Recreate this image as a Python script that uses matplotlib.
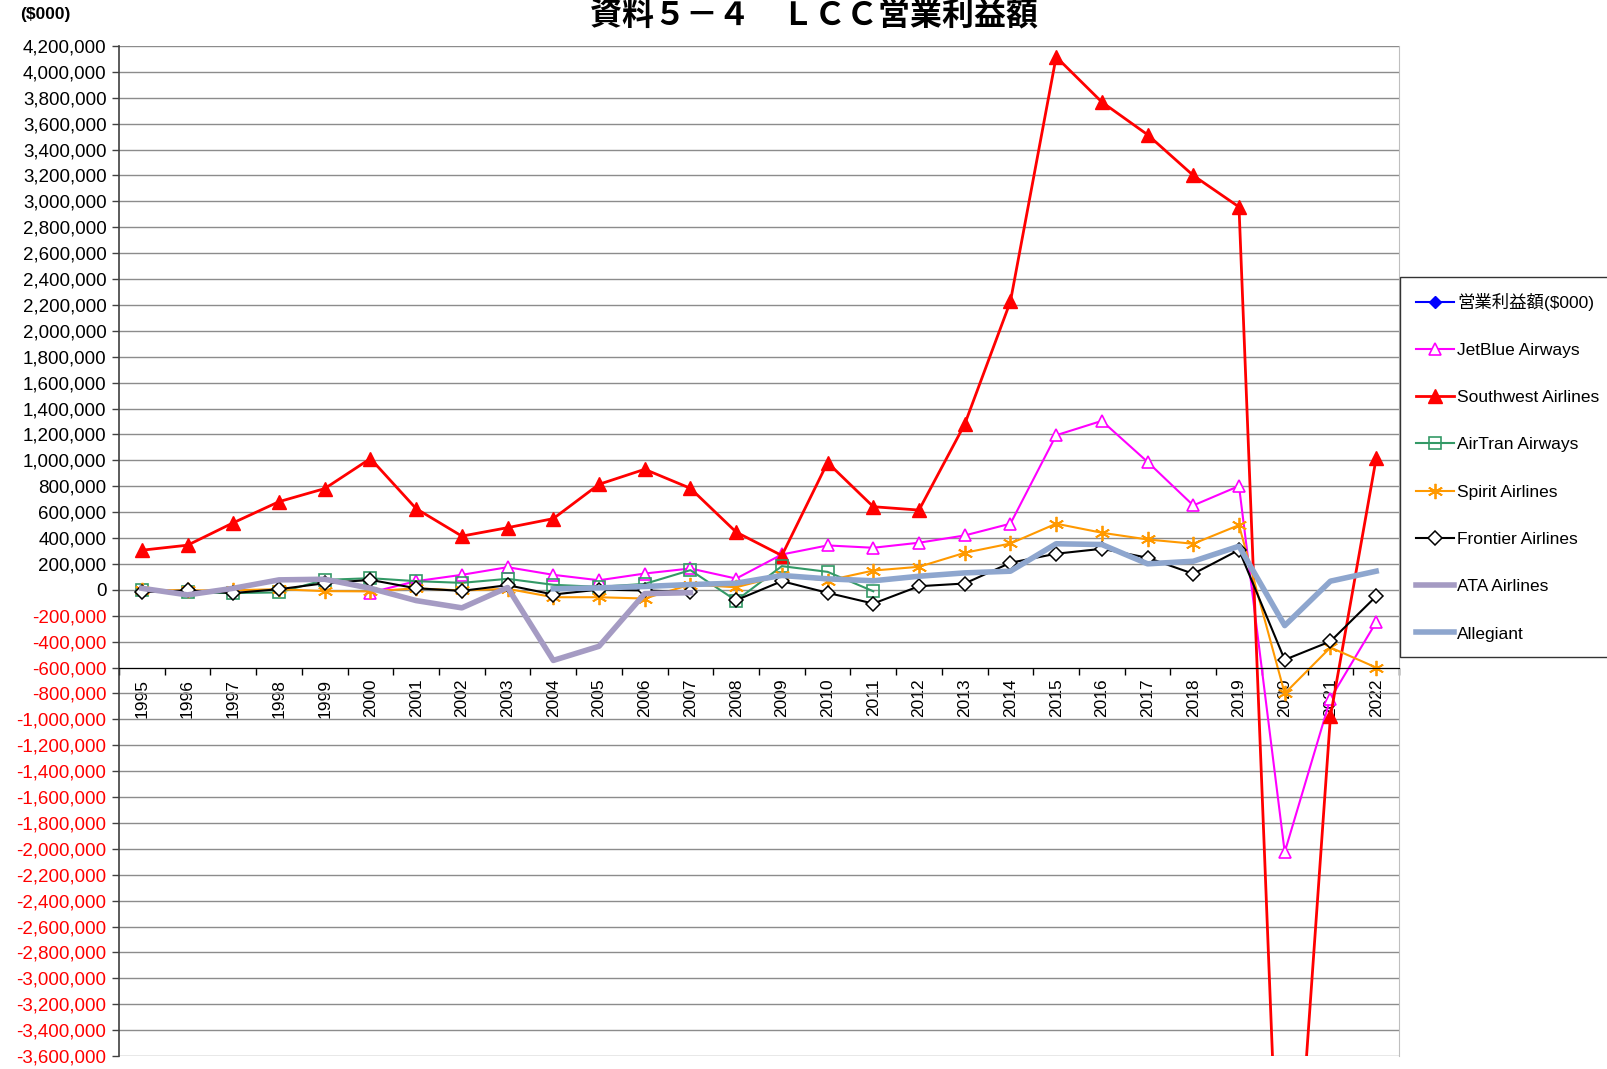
import numpy as np
import matplotlib
matplotlib.use('Agg')
import matplotlib.pyplot as plt
from matplotlib.ticker import FuncFormatter

# 日本語と英数字の両方を表示できるようにフォントを並べる
plt.rcParams['font.family'] = ['Liberation Sans', 'Noto Sans CJK JP']
plt.rcParams['axes.unicode_minus'] = False

nan = np.nan
years = [str(y) for y in range(1995, 2023)]

# 営業利益額 ($000) ― 図から読み取った値
total = [nan] * 28
jetblue = [nan, nan, nan, nan, nan, -21000, 67000, 116000, 175000, 116000,
           74000, 126000, 165000, 87000, 273000, 343000, 325000, 364000, 420000, 511000,
           1194000, 1305000, 988000, 652000, 802000, -2026000, -840000, -250000]
southwest = [306000, 345000, 518000, 681000, 782000, 1014000, 627000, 415000, 480000, 550000,
             815000, 931000, 784000, 446000, 265000, 983000, 642000, 616000, 1279000, 2227000,
             4116000, 3767000, 3515000, 3200000, 2957000, -6000000, -978000, 1015000]
airtran = [-5000, -20000, -25000, -20000, 77000, 90000, 67000, 54000, 85000, 39000,
           23000, 46000, 152000, -83000, 183000, 139000, -11000, nan, nan, nan,
           nan, nan, nan, nan, nan, nan, nan, nan]
spirit = [2000, -5000, -3000, 5000, -10000, -12000, 12000, -5000, 8000, -57000,
          -57000, -67000, 41000, 20000, 111000, 72000, 149000, 178000, 286000, 358000,
          511000, 441000, 389000, 356000, 500000, -800000, -445000, -600000]
frontier = [-18000, -5000, -25000, 5000, 51000, 77000, 12000, -8000, 36000, -36000,
            2000, -5000, -16000, -80000, 67000, -23000, -106000, 28000, 49000, 209000,
            279000, 317000, 248000, 124000, 308000, -540000, -398000, -50000]
ata = [12000, -39000, 12000, 77000, 82000, 12000, -83000, -139000, 18000, -545000,
       -436000, -29000, -22000, nan, nan, nan, nan, nan, nan, nan,
       nan, nan, nan, nan, nan, nan, nan, nan]
allegiant = [nan, nan, nan, nan, nan, nan, nan, nan, nan, 8000,
             15000, 26000, 41000, 51000, 111000, 85000, 70000, 105000, 131000, 144000,
             356000, 350000, 201000, 221000, 337000, -276000, 67000, 144000]

x = np.arange(len(years))

fig = plt.figure(figsize=(16.08, 10.69), dpi=100)
ax = fig.add_axes([119 / 1608, 1 - 1056 / 1069, (1399 - 119) / 1608, (1056 - 46) / 1069])

ax.plot(x, total, color='#0000FF', lw=1.5, marker='D', ms=6, label='営業利益額($000)')
ax.plot(x, jetblue, color='#FF00FF', lw=1.5, marker='^', ms=9, mfc='white', mew=1.2,
        label='JetBlue Airways')
ax.plot(x, southwest, color='#FF0000', lw=2, marker='^', ms=10, label='Southwest Airlines')
ax.plot(x, airtran, color='#339966', lw=1.5, marker='s', ms=8, mfc='none', mew=1.2,
        label='AirTran Airways')
ax.plot(x, spirit, color='#FF9900', lw=1.5, marker=(6, 2, 0), ms=11, mew=1.3,
        label='Spirit Airlines')
# Frontier は2007と2008の間が途切れている
ax.plot(x[:13], frontier[:13], color='black', lw=1.5, marker='D', ms=7, mfc='white', mew=1.1,
        label='Frontier Airlines')
ax.plot(x[13:], frontier[13:], color='black', lw=1.5, marker='D', ms=7, mfc='white', mew=1.1)
ax.plot(x, ata, color='#A59BC3', lw=4, label='ATA Airlines')
ax.plot(x, allegiant, color='#8EA6CE', lw=4, label='Allegiant')

# 軸の設定
ax.set_xlim(-0.5, 27.5)
ax.set_ylim(-3600000, 4200000)
ax.set_yticks(np.arange(-3600000, 4200001, 200000))
ax.yaxis.set_major_formatter(FuncFormatter(lambda v, p: f'{v:,.0f}'))
ax.tick_params(axis='y', labelsize=13.5, length=5, width=1, color='#404040', pad=4)
for lab, v in zip(ax.get_yticklabels(), ax.get_yticks()):
    if v < 0:
        lab.set_color('#FF0000')

ax.set_xticks(x)
ax.set_xticklabels(years)
ax.set_xticks(np.arange(-0.5, 28, 1), minor=True)
ax.tick_params(axis='x', which='major', length=0, labelsize=12.5, pad=8, labelrotation=90)
ax.tick_params(axis='x', which='minor', length=5, width=1, direction='out')

ax.spines['bottom'].set_position(('data', -600000))
ax.spines['bottom'].set_color('black')
ax.spines['top'].set_visible(False)
ax.spines['right'].set_color('#BFBFBF')
ax.spines['left'].set_color('#404040')
ax.spines['left'].set_linewidth(1.2)

ax.yaxis.grid(True, color='#8C8C8C', lw=1)
ax.set_axisbelow(True)

fig.text(0.506, 1 - 15 / 1069, '資料５－４　ＬＣＣ営業利益額', ha='center', va='center',
         fontsize=23, fontweight='bold', family=['Noto Sans CJK JP'])
fig.text(20 / 1608, 1 - 15 / 1069, '($000)', ha='left', va='center', fontsize=12.5,
         fontweight='bold')

leg = fig.legend(loc='upper left', bbox_to_anchor=(1400 / 1608, 1 - 277 / 1069),
                 fontsize=12.5, frameon=True, fancybox=False, edgecolor='black',
                 labelspacing=1.85, handlelength=2.2, handletextpad=0.2,
                 borderpad=0.9, borderaxespad=0)
leg.get_frame().set_linewidth(1)

fig.savefig('out.png', dpi=100)
